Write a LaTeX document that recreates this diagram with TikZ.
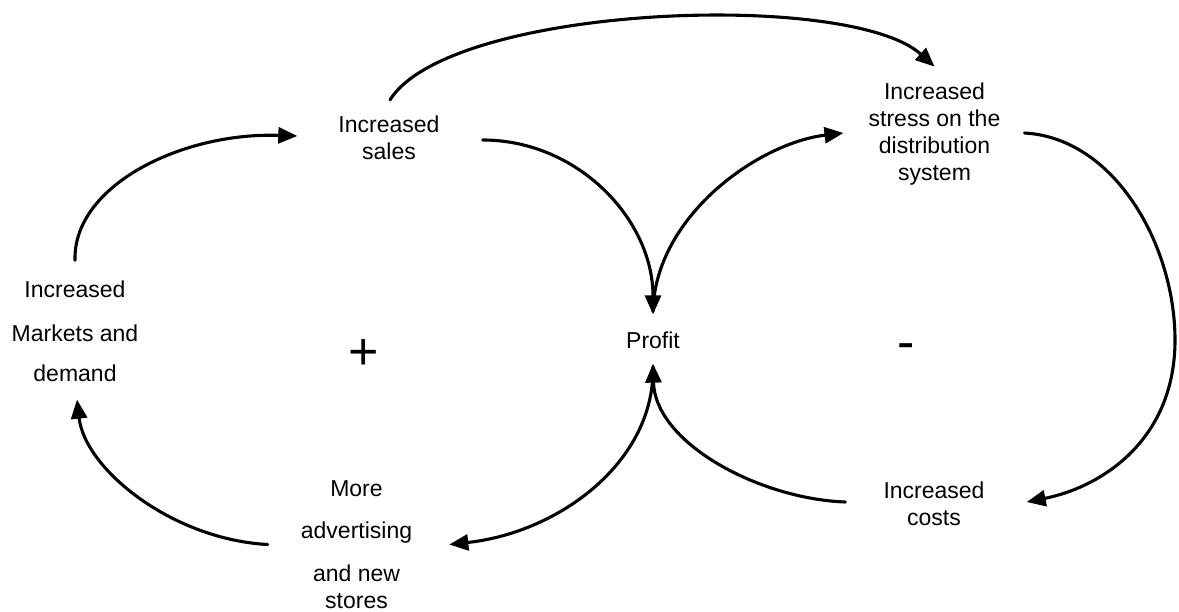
\documentclass[tikz,border=0pt]{standalone}
\usepackage{fontspec}
\setmainfont{Liberation Sans}
\usetikzlibrary{arrows.meta}

\begin{document}
\begin{tikzpicture}[x=1pt,y=-1pt,
  label/.style={align=center,inner sep=0pt,font=\fontsize{23}{27}\selectfont},
  sign/.style={inner sep=0pt,font=\fontsize{52}{52}\selectfont,anchor=base},
  link/.style={line width=3.1pt,line cap=round,
    -{Triangle[length=19pt,width=16pt]}}]
\useasboundingbox (0,0) rectangle (1179,612);

% factors of the loop
\node[label] (sales)  at (389,138)   {Increased\\sales};
\node[label] (stress) at (934.5,134) {Increased\\stress on the\\distribution\\system};
\node[label] (profit) at (653,340)   {Profit};
\node[label] (mkt)    at (75,331)    {Increased\\[17pt]Markets and\\[13pt]demand};
\node[label] (adv)    at (356.5,544.5) {More\\[15pt]advertising\\[16pt]and new\\stores};
\node[label] (costs)  at (934,503.5) {Increased\\costs};

% loop polarities
\node[sign] (plus)  at (364,370) {+};
\node[sign] (minus) at (906,360) {-};

% right-hand bend of the cost loop
\coordinate (rt) at (1175,340);

% reinforcing loop
\draw[link] ([shift={(0,-20)}]mkt.north) .. controls +(-2,-75) and +(-115,-4) .. ([shift={(-41,-2)}]sales.west);
\draw[link] ([shift={(43,2)}]sales.east) .. controls +(95,0) and +(0,-95) .. ([shift={(0,-17)}]profit.north);
\draw[link] ([shift={(0,18)}]profit.south) .. controls +(2,95) and +(110,-12) .. ([shift={(37,0)}]adv.east);
\draw[link] ([shift={(-33,0)}]adv.west) .. controls +(-95,-5) and +(8,70) .. ([shift={(2,18)}]mkt.south);

% balancing loop
\draw[link] ([shift={(1,-16)}]sales.north) .. controls +(60,-95) and +(-85,-77) .. ([shift={(0,-16)}]stress.north);
\draw[link] ([shift={(0,-20)}]profit.north) .. controls +(2,-95) and +(-85,10) .. ([shift={(-25,-1)}]stress.west);
\draw[link] ([shift={(24,-1)}]stress.east) .. controls +(90,5) and +(0,-95) .. (rt)
  .. controls +(0,100) and +(75,-15) .. ([shift={(42,-1.5)}]costs.east);
\draw[link] ([shift={(-38,-1.5)}]costs.west) .. controls +(-85,-3) and +(2,80) .. ([shift={(0,15)}]profit.south);
\end{tikzpicture}
\end{document}
